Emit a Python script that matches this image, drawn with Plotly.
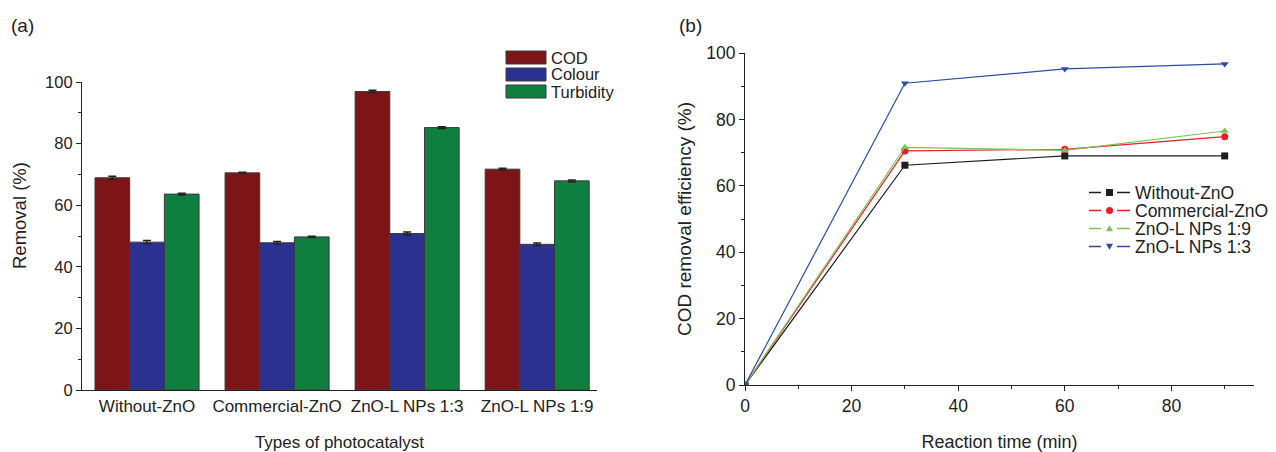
import plotly.graph_objects as go

# ---- panel (a) data ----
categories = ["Without-ZnO", "Commercial-ZnO", "ZnO-L NPs 1:3", "ZnO-L NPs 1:9"]
bar_series = ["COD", "Colour", "Turbidity"]
cod_vals = [68.9, 70.5, 96.9, 71.7]
colour_vals = [48.0, 47.8, 50.8, 47.3]
turbidity_vals = [63.6, 49.7, 85.2, 67.9]
cod_err = [0.5, 0.2, 0.4, 0.3]
colour_err = [0.5, 0.4, 0.5, 0.4]
turbidity_err = [0.3, 0.2, 0.3, 0.3]

# ---- panel (b) data ----
time_min = [0, 30, 60, 90]
line_series = ["Without-ZnO", "Commercial-ZnO", "ZnO-L NPs 1:9", "ZnO-L NPs 1:3"]
without_zno = [0, 66.2, 69.0, 69.0]
commercial_zno = [0, 70.5, 71.0, 74.8]
znol_19 = [0, 71.6, 70.7, 76.5]
znol_13 = [0, 90.9, 95.2, 96.7]

bar_colors = ["#7d1417", "#2b3190", "#0e7f3e"]
line_colors = ["#1e1e1e", "#ec1c24", "#7cc258", "#2c4aa8"]
markers = ["square", "circle", "triangle-up", "triangle-down"]
FONT = "Liberation Sans, Arial, sans-serif"
TXT = "#222222"
W, H = 1276, 452


def px(x):
    return x / W


def py(y):
    return 1 - y / H


fig = go.Figure()

for name, vals, err, col in zip(bar_series, [cod_vals, colour_vals, turbidity_vals],
                                [cod_err, colour_err, turbidity_err], bar_colors):
    fig.add_trace(go.Bar(
        x=categories, y=vals, name=name, marker=dict(color=col, line=dict(color="#3a3a3a", width=1)),
        error_y=dict(type="data", array=err, color="#222222", thickness=1.5, width=4),
        showlegend=False, xaxis="x", yaxis="y"))

for name, vals, col, sym in zip(line_series, [without_zno, commercial_zno, znol_19, znol_13],
                                line_colors, markers):
    fig.add_trace(go.Scatter(
        x=time_min, y=vals, name=name, mode="lines+markers",
        line=dict(color=col, width=1.2), marker=dict(symbol=sym, size=7, color=col),
        xaxis="x2", yaxis="y2", showlegend=False))


def axis_common(fs):
    return dict(showline=True, linecolor="#222222", linewidth=1.2, showgrid=False, zeroline=False,
                automargin=False,
                tickfont=dict(family=FONT, size=fs, color=TXT), ticks="outside", tickcolor="#222222",
                ticklen=5, tickwidth=1.2)


minor = dict(ticks="outside", dtick=10, ticklen=3, tickcolor="#222222")

fig.update_layout(
    width=W, height=H, margin=dict(l=0, r=0, t=0, b=0, autoexpand=False),
    plot_bgcolor="white", paper_bgcolor="white",
    barmode="group", bargap=0.2, bargroupgap=0,
    font=dict(family=FONT, size=16, color=TXT),
    showlegend=False,
    xaxis=dict(domain=[px(82), px(597)], anchor="y", range=[-0.5, 3.46],
               showline=True, linecolor="#222222", linewidth=1.2, ticks="", showgrid=False,
               automargin=False,
               tickfont=dict(family=FONT, size=17, color=TXT),
               title=dict(text="Types of photocatalyst", font=dict(family=FONT, size=17, color=TXT), standoff=25)),
    yaxis=dict(domain=[py(390), py(82)], anchor="x", range=[0, 100], dtick=20, minor=minor,
               **axis_common(16.5)),
    xaxis2=dict(domain=[px(745), px(1254)], anchor="y2", range=[0, 95.5], dtick=20, minor=minor,
                title=dict(text="Reaction time (min)", font=dict(family=FONT, size=18, color=TXT), standoff=21),
                **axis_common(17.5)),
    yaxis2=dict(domain=[py(385), py(53)], anchor="x2", range=[0, 100], dtick=20, minor=minor,
                title=dict(text="COD removal efficiency (%)", font=dict(family=FONT, size=19, color=TXT), standoff=9),
                **axis_common(17.5)),
)

# y title of panel (a), placed like the original (above the axis centre)
fig.add_annotation(xref="paper", yref="paper", x=px(19), y=py(216), text="Removal (%)", textangle=-90,
                   showarrow=False, xanchor="center", yanchor="middle",
                   font=dict(family=FONT, size=18.5, color=TXT))

# manual legend for panel (a)
for i, (name, col) in enumerate(zip(bar_series, bar_colors)):
    top = 51 + i * 17
    fig.add_shape(type="rect", xref="paper", yref="paper",
                  x0=px(506), x1=px(546), y0=py(top + 13), y1=py(top),
                  fillcolor=col, line=dict(color="#3a3a3a", width=1))
    fig.add_annotation(xref="paper", yref="paper", x=px(549), y=py(top + 6.5),
                       text=name, showarrow=False, xanchor="left", yanchor="middle",
                       font=dict(family=FONT, size=16.5, color=TXT))

# manual legend for panel (b)
for i, (name, col, sym) in enumerate(zip(line_series, line_colors, markers)):
    cy = 192.5 + i * 18
    for xa, xb in [(1089, 1101), (1117, 1130)]:
        fig.add_shape(type="line", xref="paper", yref="paper", x0=px(xa), x1=px(xb), y0=py(cy), y1=py(cy),
                      line=dict(color=col, width=1.5))
    cx = 1109.5
    s = 7
    if sym == "square":
        fig.add_shape(type="rect", xref="paper", yref="paper", x0=px(cx - s / 2), x1=px(cx + s / 2),
                      y0=py(cy + s / 2), y1=py(cy - s / 2), fillcolor=col, line=dict(width=0))
    elif sym == "circle":
        fig.add_shape(type="circle", xref="paper", yref="paper", x0=px(cx - s / 2), x1=px(cx + s / 2),
                      y0=py(cy + s / 2), y1=py(cy - s / 2), fillcolor=col, line=dict(width=0))
    else:
        d = 1 if sym == "triangle-up" else -1
        path = "M {:.5f},{:.5f} L {:.5f},{:.5f} L {:.5f},{:.5f} Z".format(
            px(cx - s / 2), py(cy + d * s * 0.4), px(cx + s / 2), py(cy + d * s * 0.4),
            px(cx), py(cy - d * s * 0.45))
        fig.add_shape(type="path", xref="paper", yref="paper", path=path, fillcolor=col, line=dict(width=0))
    fig.add_annotation(xref="paper", yref="paper", x=px(1133), y=py(cy),
                       text=name, showarrow=False, xanchor="left", yanchor="middle",
                       font=dict(family=FONT, size=17.5, color=TXT))

fig.add_annotation(xref="paper", yref="paper", x=px(9), y=py(25), text="(a)", showarrow=False,
                   xanchor="left", yanchor="middle", font=dict(family=FONT, size=19, color=TXT))
fig.add_annotation(xref="paper", yref="paper", x=px(677), y=py(25), text="(b)", showarrow=False,
                   xanchor="left", yanchor="middle", font=dict(family=FONT, size=19, color=TXT))

fig.write_html("out.html")
